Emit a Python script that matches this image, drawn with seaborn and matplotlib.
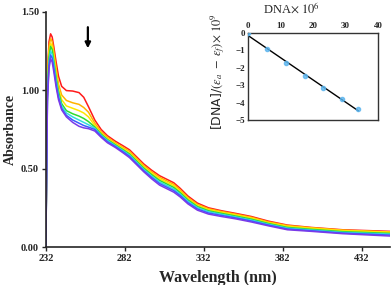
import numpy as np
import pandas as pd
import matplotlib
matplotlib.use('Agg')
import matplotlib.pyplot as plt
import seaborn as sns

# wavelength grid (nm) and absorbance of the 7 titration spectra
wavelength = [232, 233, 234, 235, 236, 237, 238.5, 240, 242, 245, 249, 253, 256, 259, 263,
              267, 271, 276, 281, 285, 289, 294, 299, 304, 309, 313, 317, 322, 328, 335,
              343, 352, 362, 373, 385, 400, 420, 450]
red = [0.00, 1.12, 1.31, 1.36, 1.34, 1.28, 1.18, 1.09, 1.025, 0.998, 0.995, 0.985, 0.955, 0.895, 0.81,
       0.75, 0.71, 0.675, 0.645, 0.62, 0.58, 0.53, 0.49, 0.455, 0.43, 0.41, 0.375, 0.325, 0.28, 0.25,
       0.232, 0.215, 0.195, 0.165, 0.14, 0.125, 0.11, 0.10]
orange = [0.00, 1.08, 1.28, 1.33, 1.31, 1.25, 1.14, 1.04, 0.97, 0.935, 0.92, 0.91, 0.89, 0.86, 0.79,
          0.735, 0.70, 0.665, 0.635, 0.61, 0.57, 0.52, 0.48, 0.445, 0.42, 0.40, 0.365, 0.315, 0.272, 0.244,
          0.227, 0.21, 0.19, 0.16, 0.137, 0.123, 0.108, 0.095]
yellow = [0.00, 1.04, 1.24, 1.30, 1.28, 1.22, 1.11, 1.01, 0.94, 0.90, 0.885, 0.87, 0.855, 0.83, 0.775,
          0.725, 0.69, 0.658, 0.627, 0.60, 0.56, 0.51, 0.47, 0.435, 0.41, 0.39, 0.355, 0.307, 0.265, 0.238,
          0.221, 0.205, 0.185, 0.155, 0.132, 0.12, 0.105, 0.095]
green = [0.00, 1.01, 1.21, 1.28, 1.26, 1.19, 1.08, 0.99, 0.915, 0.87, 0.85, 0.835, 0.82, 0.80, 0.765,
         0.72, 0.685, 0.652, 0.62, 0.593, 0.553, 0.503, 0.462, 0.425, 0.40, 0.38, 0.347, 0.30, 0.258, 0.231,
         0.215, 0.198, 0.178, 0.15, 0.125, 0.113, 0.098, 0.087]
cyan = [0.00, 0.98, 1.18, 1.25, 1.23, 1.17, 1.06, 0.97, 0.90, 0.855, 0.83, 0.81, 0.795, 0.78, 0.758,
        0.713, 0.68, 0.647, 0.614, 0.586, 0.545, 0.495, 0.453, 0.415, 0.39, 0.37, 0.338, 0.292, 0.251, 0.225,
        0.209, 0.192, 0.172, 0.145, 0.12, 0.108, 0.093, 0.082]
blue = [0.00, 0.955, 1.16, 1.225, 1.205, 1.145, 1.04, 0.955, 0.885, 0.84, 0.81, 0.79, 0.775, 0.765, 0.75,
        0.707, 0.672, 0.641, 0.607, 0.578, 0.537, 0.487, 0.444, 0.405, 0.38, 0.36, 0.329, 0.283, 0.243, 0.217,
        0.202, 0.186, 0.166, 0.14, 0.115, 0.104, 0.089, 0.076]
purple = [0.00, 0.93, 1.14, 1.20, 1.18, 1.12, 1.02, 0.94, 0.875, 0.83, 0.795, 0.77, 0.76, 0.755, 0.74,
          0.70, 0.665, 0.635, 0.60, 0.57, 0.53, 0.48, 0.435, 0.395, 0.37, 0.35, 0.32, 0.275, 0.235, 0.21,
          0.195, 0.18, 0.16, 0.135, 0.11, 0.10, 0.085, 0.07]

spectra = {'red': red, 'orange': orange, 'yellow': yellow, 'green': green,
           'cyan': cyan, 'blue': blue, 'purple': purple}
colors = ['#ff1a1a', '#ffb300', '#ffe600', '#2edc2e', '#33dddd', '#3a5cff', '#7a3ae8']

# inset: binding plot
dna = [0, 5.8, 11.7, 17.5, 23.2, 28.8, 34.0]
ratio = [0.0, -0.91, -1.72, -2.49, -3.15, -3.78, -4.38]

x_ticks = [232, 282, 332, 382, 432]
y_ticks = [0.0, 0.5, 1.0, 1.5]

sns.set_style('ticks')
plt.rcParams['font.family'] = ['Liberation Serif', 'DejaVu Serif']
plt.rcParams['mathtext.fontset'] = 'stix'

rows = []
for name, vals in spectra.items():
    for w, a in zip(wavelength, vals):
        rows.append({'wl': w, 'abs': a, 'curve': name})
df = pd.DataFrame(rows)

fig = plt.figure(figsize=(3.92, 2.85), dpi=100)
ax = fig.add_axes([0.117, 0.1333, 0.878, 0.825])
sns.lineplot(data=df, x='wl', y='abs', hue='curve', palette=colors,
             linewidth=1.1, legend=False, ax=ax)
ax.set_xlim(232, 450)
ax.set_ylim(0, 1.5)
ax.set_xticks(x_ticks)
ax.set_yticks(y_ticks)
ax.set_yticklabels(['%.2f' % v for v in y_ticks])
ax.tick_params(labelsize=7.5, length=3, width=1, direction='out', pad=2)
for lab in ax.get_xticklabels() + ax.get_yticklabels():
    lab.set_fontweight('bold')
ax.set_xlabel('Wavelength (nm)', fontsize=11.5, fontweight='bold', labelpad=5)
ax.set_ylabel('Absorbance', fontsize=10, fontweight='bold')
ax.yaxis.set_label_coords(-0.083, 0.5)
sns.despine(ax=ax)
for s in ['left', 'bottom']:
    ax.spines[s].set_linewidth(1.2)

ax.annotate('', xy=(258.6, 1.25), xytext=(258.6, 1.42),
            arrowprops=dict(arrowstyle='-|>', color='black', lw=1.6,
                            mutation_scale=8))

# inset
ins = fig.add_axes([0.633, 0.579, 0.331, 0.305])
sns.regplot(x=dna, y=ratio, ci=None, ax=ins, truncate=True,
            scatter_kws=dict(color='#5ab4ee', s=9, zorder=3),
            line_kws=dict(color='black', lw=1.0))
ins.set_xlim(0, 40)
ins.set_ylim(-5, 0)
ins.set_xticks([0, 10, 20, 30, 40])
ins.set_yticks([0, -1, -2, -3, -4, -5])
ins.xaxis.tick_top()
ins.tick_params(labelsize=6.5, length=0, pad=2)
for lab in ins.get_xticklabels() + ins.get_yticklabels():
    lab.set_fontweight('bold')
for s in ins.spines.values():
    s.set_linewidth(1.0)
    s.set_color('#333333')
ins.set_xlabel('')
ins.set_ylabel('')
fig.text(291 / 392, 1 - 9 / 285, r'DNA$\times\ 10^6$', fontsize=9,
         ha='center', va='center')
fig.text(218 / 392, 1 - 72 / 285,
         r'[DNA]/$(\varepsilon_a\ -\ \varepsilon_f)$$\times\ 10^9$',
         fontsize=9, family=['DejaVu Sans'], rotation=90,
         ha='center', va='center')

fig.savefig('out.png', dpi=100)
